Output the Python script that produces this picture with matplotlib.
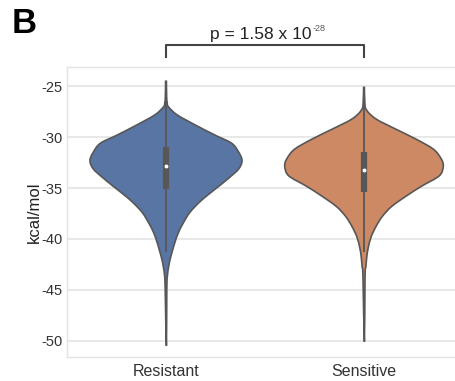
import numpy as np
import matplotlib
matplotlib.use("Agg")
import matplotlib.pyplot as plt
from matplotlib.path import Path
from matplotlib.patches import PathPatch

plt.rcParams["font.family"] = ["Liberation Sans", "DejaVu Sans"]

# Groups and their binding-energy distributions (kcal/mol)
groups = ["Resistant", "Sensitive"]
colors = ["#5975a4", "#cc8963"]

# Kernel density profiles: energy levels and relative density (peak of widest = 1)
resistant_energy = [-24.5, -26.0, -26.6, -27.0, -27.8, -28.8, -29.8, -30.6, -31.5,
                    -32.3, -33.1, -33.9, -34.8, -35.6, -36.4, -37.4, -38.4, -39.4,
                    -40.4, -41.2, -42.0, -42.8, -43.6, -45.0, -50.5]
resistant_density = [0.005, 0.008, 0.015, 0.03, 0.14, 0.37, 0.62, 0.83, 0.92,
                     0.96, 0.92, 0.81, 0.67, 0.54, 0.42, 0.30, 0.22, 0.155,
                     0.11, 0.08, 0.052, 0.032, 0.018, 0.01, 0.005]

sensitive_energy = [-25.1, -26.5, -27.3, -28.2, -29.2, -30.2, -31.2, -32.2, -32.9,
                    -33.8, -34.8, -35.8, -36.8, -37.8, -38.8, -39.8, -40.8, -41.7,
                    -42.7, -43.7, -50.1]
sensitive_density = [0.005, 0.01, 0.03, 0.15, 0.40, 0.66, 0.88, 0.98, 1.00,
                     0.95, 0.73, 0.53, 0.35, 0.23, 0.15, 0.09, 0.055, 0.036,
                     0.024, 0.013, 0.005]

# Box summary: first quartile, median, third quartile
q1 = [-35.1, -35.4]
median = [-32.85, -33.2]
q3 = [-31.0, -31.5]

yticks = [-50, -45, -40, -35, -30, -25]
p_main = "p = 1.58 x 10"
p_exp = "-28"

energies = [resistant_energy, sensitive_energy]
densities = [resistant_density, sensitive_density]


def smooth_path(pts):
    """Cubic Bezier path through the given points (Catmull-Rom tangents)."""
    pts = np.asarray(pts, dtype=float)
    n = len(pts)
    verts = [pts[0]]
    codes = [Path.MOVETO]
    for k in range(n - 1):
        p0 = pts[max(k - 1, 0)]
        p1 = pts[k]
        p2 = pts[k + 1]
        p3 = pts[min(k + 2, n - 1)]
        c1 = p1 + (p2 - p0) / 6.0
        c2 = p2 - (p3 - p1) / 6.0
        verts += [c1, c2, p2]
        codes += [Path.CURVE4] * 3
    verts.append(pts[0])
    codes.append(Path.CLOSEPOLY)
    return Path(verts, codes)


fig = plt.figure(figsize=(4.55, 3.81), dpi=100)
ax = fig.add_axes([67 / 455, 24 / 381, 396 / 455, 290 / 381])

edge = "#575757"
half_width = 0.4
for i, (e, d, c) in enumerate(zip(energies, densities, colors)):
    e = np.asarray(e)
    d = np.asarray(d)
    right = np.column_stack([i + d * half_width, e])
    left = np.column_stack([i - d * half_width, e])[::-1]
    outline = np.vstack([right, left[1:]])
    ax.add_patch(PathPatch(smooth_path(outline), facecolor=c, edgecolor=edge,
                           linewidth=1.2, zorder=2))
    iqr = q3[i] - q1[i]
    lo = max(e.min(), q1[i] - 1.5 * iqr)
    hi = min(e.max(), q3[i] + 1.5 * iqr)
    ax.plot([i, i], [lo, hi], color=edge, lw=1.3, solid_capstyle="butt", zorder=3)
    ax.plot([i, i], [q1[i], q3[i]], color=edge, lw=4.5, solid_capstyle="butt", zorder=3)
    ax.plot([i], [median[i]], marker="o", color="white", markersize=2.8,
            markeredgewidth=0, zorder=4)

ax.set_xlim(-0.5, 1.5)
ax.set_ylim(-51.6, -23.1)
ax.set_yticks(yticks)
ax.set_yticklabels([str(t) for t in yticks])
ax.set_xticks(range(len(groups)))
ax.set_xticklabels(groups)
ax.tick_params(axis="both", length=0, colors="#333333")
ax.tick_params(axis="y", labelsize=10.5, pad=3)
ax.tick_params(axis="x", labelsize=11.5, pad=5)
ax.set_ylabel("kcal/mol", fontsize=12, color="#222222")
ax.yaxis.set_label_coords(-0.063, 0.5)
ax.grid(axis="y", color="#e8e8e8", lw=1.4, zorder=0)
ax.set_axisbelow(True)
for s in ax.spines.values():
    s.set_color("#e3e3e3")
    s.set_linewidth(1.0)

# Significance bracket
bracket_top = -20.94
bracket_foot = -22.12
ax.plot([0, 0, 1, 1], [bracket_foot, bracket_top, bracket_top, bracket_foot],
        color="#444444", lw=1.5, clip_on=False, zorder=5)
ax.text(0.737, -20.3, p_main, ha="right", va="baseline", fontsize=12.5,
        color="#222222", clip_on=False)
ax.text(0.742, -19.55, p_exp, ha="left", va="baseline", fontsize=6.5,
        color="#555555", clip_on=False)

fig.text(12 / 455, 1 - 33 / 381, "B", fontsize=25, fontweight="bold",
         va="baseline", ha="left", color="black")

fig.savefig("out.png", dpi=100, facecolor="white")
